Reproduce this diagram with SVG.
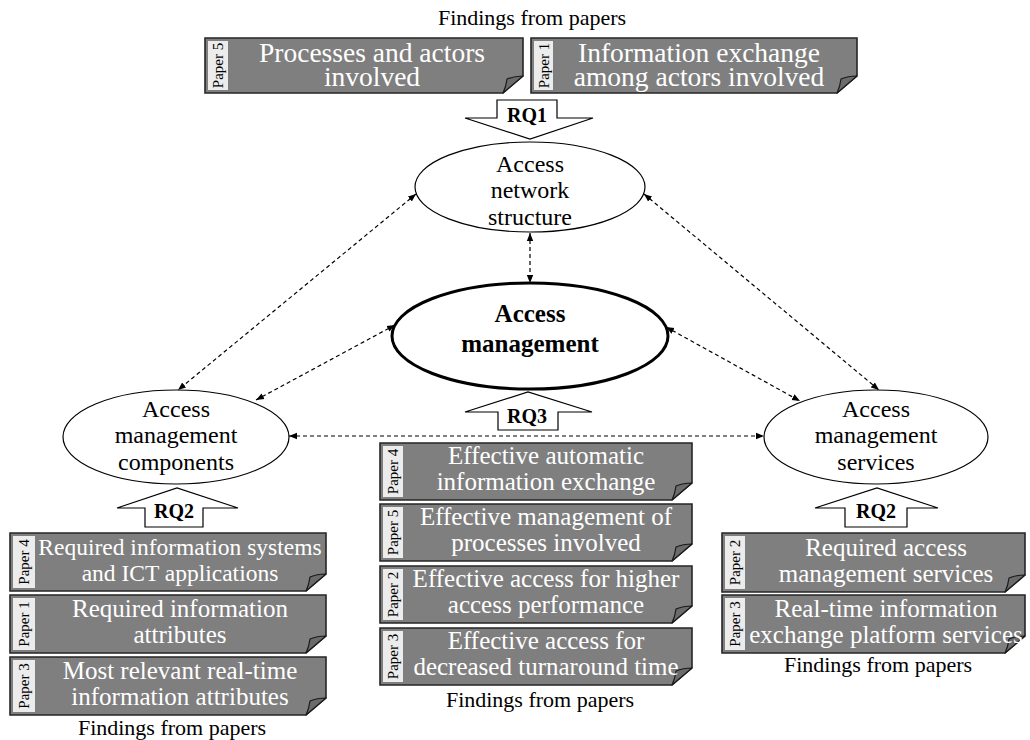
<svg xmlns="http://www.w3.org/2000/svg" width="1030" height="740" viewBox="0 0 1030 740">
<style>
.box{fill:#7f7f7f;stroke:#262626;stroke-width:1.6}
.fold{fill:#6b6b6b;stroke:#1a1a1a;stroke-width:1.2;stroke-linejoin:round}
.strip{fill:#ececec}
.lbl{font-family:'Liberation Serif',serif;font-size:15px;fill:#000;text-anchor:middle}
.bt{font-family:'Liberation Serif',serif;font-size:25px;fill:#fff;text-anchor:middle}
.tt{font-size:27.5px}
.et{font-family:'Liberation Serif',serif;font-size:24px;fill:#000;text-anchor:middle}
.bold{font-weight:bold;font-size:25px}
.ell{fill:#fff;stroke:#000;stroke-width:1.2}
.rq{fill:#fff;stroke:#000;stroke-width:1.2;stroke-linejoin:miter}
.rqt{font-family:'Liberation Serif',serif;font-size:20px;font-weight:bold;fill:#000;text-anchor:middle}
.ff{font-family:'Liberation Serif',serif;font-size:22px;fill:#000;text-anchor:middle}
.conn{stroke:#000;stroke-width:1.2;stroke-dasharray:4 3;fill:none;marker-start:url(#ah);marker-end:url(#ah)}
</style>
<defs>
<marker id="ah" viewBox="0 0 10 10" refX="10" refY="5" markerWidth="8" markerHeight="8" markerUnits="userSpaceOnUse" orient="auto-start-reverse"><path d="M0,1 L10,5 L0,9 Z" fill="#000"/></marker>
</defs>

<g id="connectors">
<path class="conn" d="M416,194 L178,390"/>
<path class="conn" d="M644,194 L879,390"/>
<path class="conn" d="M530,233 L530,283"/>
<path class="conn" d="M395,325 L256,400"/>
<path class="conn" d="M666,327 L800,401"/>
<path class="conn" d="M289,436 L764,436"/>
</g>

<g id="findings-labels">
<text class="ff" x="532" y="25">Findings from papers</text>
<text class="ff" x="172" y="735">Findings from papers</text>
<text class="ff" x="540" y="707">Findings from papers</text>
<text class="ff" x="878" y="672">Findings from papers</text>
</g>

<g id="top-paper5">
<path class="box" d="M205,38 H523 V76 L503,93 H205 Z"/>
<path class="fold" d="M523,76 Q514,76 507,79 Q506,87 503,93 Z"/>
<rect class="strip" x="208" y="41" width="20" height="49"/>
<text class="lbl" transform="translate(223,65.5) rotate(-90)">Paper 5</text>
<text class="bt tt" x="372" y="62">Processes and actors</text>
<text class="bt tt" x="372" y="86">involved</text>
</g>
<g id="top-paper1">
<path class="box" d="M531,38 H857 V76 L837,93 H531 Z"/>
<path class="fold" d="M857,76 Q848,76 841,79 Q840,87 837,93 Z"/>
<rect class="strip" x="534" y="41" width="19" height="49"/>
<text class="lbl" transform="translate(548.5,65.5) rotate(-90)">Paper 1</text>
<text class="bt tt" x="699" y="62">Information exchange</text>
<text class="bt tt" x="699" y="86">among actors involved</text>
</g>

<g id="rq1">
<path class="rq" d="M497,100 H557 V118 H593 L530,139 L465,118 H497 Z"/>
<text class="rqt" x="527" y="122">RQ1</text>
</g>

<g id="network-structure">
<ellipse class="ell" cx="530" cy="187" rx="115" ry="45"/>
<text class="et" x="530" y="172">Access</text>
<text class="et" x="530" y="198">network</text>
<text class="et" x="530" y="225">structure</text>
</g>

<g id="access-management">
<ellipse cx="530" cy="336" rx="138" ry="53" fill="#fff" stroke="#000" stroke-width="3"/>
<text class="et bold" x="530" y="322">Access</text>
<text class="et bold" x="530" y="352">management</text>
</g>

<g id="rq3">
<path class="rq" d="M498,430 V412 H465 L528,392 L592,412 H558 V430 Z"/>
<text class="rqt" x="527" y="423">RQ3</text>
</g>

<g id="components">
<ellipse class="ell" cx="176" cy="437" rx="113" ry="47"/>
<text class="et" x="176" y="417">Access</text>
<text class="et" x="176" y="443">management</text>
<text class="et" x="176" y="470">components</text>
</g>

<g id="services">
<ellipse class="ell" cx="876" cy="437" rx="112" ry="47"/>
<text class="et" x="876" y="417">Access</text>
<text class="et" x="876" y="443">management</text>
<text class="et" x="876" y="470">services</text>
</g>

<g id="rq2-left">
<path class="rq" d="M145,527 V508 H117 L177,488 L238,508 H203 V527 Z"/>
<text class="rqt" x="174" y="518">RQ2</text>
</g>
<g id="rq2-right">
<path class="rq" d="M845,527 V508 H815 L877,488 L938,508 H907 V527 Z"/>
<text class="rqt" x="876" y="518">RQ2</text>
</g>

<g id="left-paper4">
<path class="box" d="M10,533 H326 V574 L306,591 H10 Z"/>
<path class="fold" d="M326,574 Q317,574 310,577 Q309,585 306,591 Z"/>
<rect class="strip" x="13" y="536" width="22" height="52"/>
<text class="lbl" transform="translate(29,562) rotate(-90)">Paper 4</text>
<text class="bt" style="font-size:23.5px" x="180" y="555">Required information systems</text>
<text class="bt" style="font-size:23.5px" x="180" y="581">and ICT applications</text>
</g>
<g id="left-paper1">
<path class="box" d="M10,595 H326 V636 L306,653 H10 Z"/>
<path class="fold" d="M326,636 Q317,636 310,639 Q309,647 306,653 Z"/>
<rect class="strip" x="13" y="598" width="22" height="52"/>
<text class="lbl" transform="translate(29,624) rotate(-90)">Paper 1</text>
<text class="bt" x="180" y="617">Required information</text>
<text class="bt" x="180" y="643">attributes</text>
</g>
<g id="left-paper3">
<path class="box" d="M10,657 H326 V698 L306,715 H10 Z"/>
<path class="fold" d="M326,698 Q317,698 310,701 Q309,709 306,715 Z"/>
<rect class="strip" x="13" y="660" width="22" height="52"/>
<text class="lbl" transform="translate(29,686) rotate(-90)">Paper 3</text>
<text class="bt" x="180" y="679">Most relevant real-time</text>
<text class="bt" x="180" y="705">information attributes</text>
</g>

<g id="center-paper4">
<path class="box" d="M380,443 H692 V483 L672,500 H380 Z"/>
<path class="fold" d="M692,483 Q683,483 676,486 Q675,494 672,500 Z"/>
<rect class="strip" x="383" y="446" width="20" height="51"/>
<text class="lbl" transform="translate(398,471.5) rotate(-90)">Paper 4</text>
<text class="bt" x="546" y="464">Effective automatic</text>
<text class="bt" x="546" y="490">information exchange</text>
</g>
<g id="center-paper5">
<path class="box" d="M380,504 H692 V544 L672,561 H380 Z"/>
<path class="fold" d="M692,544 Q683,544 676,547 Q675,555 672,561 Z"/>
<rect class="strip" x="383" y="507" width="20" height="51"/>
<text class="lbl" transform="translate(398,532.5) rotate(-90)">Paper 5</text>
<text class="bt" x="546" y="525">Effective management of</text>
<text class="bt" x="546" y="551">processes involved</text>
</g>
<g id="center-paper2">
<path class="box" d="M380,566 H692 V606 L672,623 H380 Z"/>
<path class="fold" d="M692,606 Q683,606 676,609 Q675,617 672,623 Z"/>
<rect class="strip" x="383" y="569" width="20" height="51"/>
<text class="lbl" transform="translate(398,594.5) rotate(-90)">Paper 2</text>
<text class="bt" x="546" y="587">Effective access for higher</text>
<text class="bt" x="546" y="613">access performance</text>
</g>
<g id="center-paper3">
<path class="box" d="M380,628 H692 V668 L672,685 H380 Z"/>
<path class="fold" d="M692,668 Q683,668 676,671 Q675,679 672,685 Z"/>
<rect class="strip" x="383" y="631" width="20" height="51"/>
<text class="lbl" transform="translate(398,656.5) rotate(-90)">Paper 3</text>
<text class="bt" x="546" y="649">Effective access for</text>
<text class="bt" x="546" y="675">decreased turnaround time</text>
</g>

<g id="right-paper2">
<path class="box" d="M722,533 H1025 V575 L1005,592 H722 Z"/>
<path class="fold" d="M1025,575 Q1016,575 1009,578 Q1008,586 1005,592 Z"/>
<rect class="strip" x="725" y="536" width="20" height="53"/>
<text class="lbl" transform="translate(740,562.5) rotate(-90)">Paper 2</text>
<text class="bt" x="886" y="556">Required access</text>
<text class="bt" x="886" y="582">management services</text>
</g>
<g id="right-paper3">
<path class="box" d="M722,595 H1025 V636 L1005,653 H722 Z"/>
<path class="fold" d="M1025,636 Q1016,636 1009,639 Q1008,647 1005,653 Z"/>
<rect class="strip" x="725" y="598" width="20" height="52"/>
<text class="lbl" transform="translate(740,624) rotate(-90)">Paper 3</text>
<text class="bt" x="886" y="617">Real-time information</text>
<text class="bt" x="886" y="643">exchange platform services</text>
</g>
</svg>
